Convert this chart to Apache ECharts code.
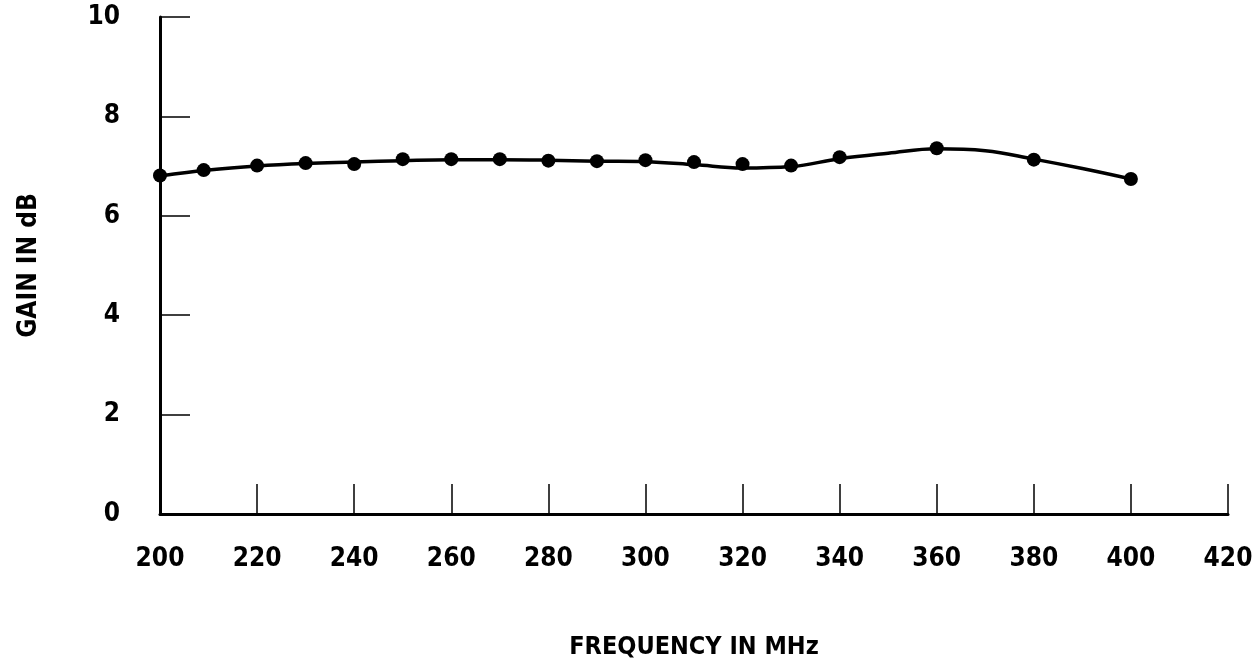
<!DOCTYPE html>
<html>
<head>
<meta charset="utf-8">
<script src="https://cdn.jsdelivr.net/npm/echarts@6/dist/echarts.min.js"></script>
<style>
  html, body { margin: 0; padding: 0; background: #fff; }
  #chart { width: 1260px; height: 665px; }
</style>
</head>
<body>
<div id="chart"></div>
<script>
// measured points (frequency in MHz, gain in dB)
const freq = [200, 209, 220, 230, 240, 250, 260, 270, 280, 290, 300, 310, 320, 330, 340, 360, 380, 400];
const gain = [6.81, 6.92, 7.01, 7.06, 7.04, 7.14, 7.14, 7.14, 7.11, 7.10, 7.12, 7.08, 7.04, 7.01, 7.18, 7.36, 7.13, 6.74];

// hand-faired curve drawn through the points
const curveFreq = [200, 210, 220, 230, 240, 250, 260, 270, 280, 290, 300, 310, 320, 330, 340, 350, 360, 370, 380, 390, 400];
const curveGain = [6.80, 6.92, 7.00, 7.05, 7.08, 7.11, 7.13, 7.13, 7.12, 7.10, 7.09, 7.03, 6.96, 6.99, 7.15, 7.26, 7.35, 7.31, 7.14, 6.95, 6.74];

const xTicks = { min: 200, max: 420, step: 20 };
const yTicks = { min: 0, max: 10, step: 2 };

const font = '"Liberation Sans Narrow", "DejaVu Sans Condensed", sans-serif';

const chart = echarts.init(document.getElementById('chart'));
chart.setOption({
    animation: false,
    backgroundColor: '#fff',
    grid: { left: 160, right: 32, top: 17, bottom: 150 },
    xAxis: {
        type: 'value',
        min: xTicks.min, max: xTicks.max, interval: xTicks.step,
        name: 'FREQUENCY IN MHz',
        nameLocation: 'middle',
        nameGap: 121,
        nameTextStyle: { fontFamily: font, fontWeight: 'bold', fontSize: 25, color: '#000' },
        axisLine: { lineStyle: { color: '#000', width: 3 } },
        axisTick: { inside: true, length: 30, lineStyle: { color: '#000', width: 1.5 } },
        axisLabel: { margin: 32, fontFamily: font, fontWeight: 'bold', fontSize: 26, color: '#000' },
        splitLine: { show: false }
    },
    yAxis: {
        type: 'value',
        min: yTicks.min, max: yTicks.max, interval: yTicks.step,
        name: 'GAIN IN dB',
        nameLocation: 'middle',
        nameGap: 118,
        nameTextStyle: { fontFamily: font, fontWeight: 'bold', fontSize: 26, color: '#000' },
        axisLine: { lineStyle: { color: '#000', width: 3 } },
        axisTick: { inside: true, length: 30, lineStyle: { color: '#000', width: 1.5 } },
        axisLabel: { margin: 40, fontFamily: font, fontWeight: 'bold', fontSize: 26, color: '#000' },
        splitLine: { show: false }
    },
    series: [
        {
            type: 'line',
            data: curveFreq.map((f, i) => [f, curveGain[i]]),
            smooth: 0.4,
            showSymbol: false,
            lineStyle: { color: '#000', width: 3.5 },
            z: 2
        },
        {
            type: 'scatter',
            data: freq.map((f, i) => [f, gain[i]]),
            symbol: 'circle',
            symbolSize: 14,
            itemStyle: { color: '#000', opacity: 1 },
            z: 3
        }
    ]
});
</script>
</body>
</html>
